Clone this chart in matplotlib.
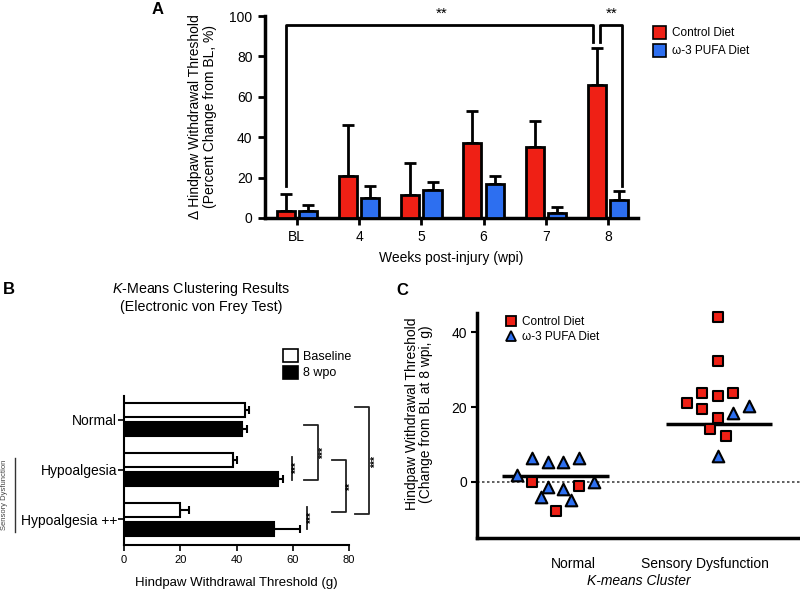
import matplotlib
matplotlib.use("Agg")
import matplotlib.pyplot as plt
from matplotlib.patches import Patch
from matplotlib.lines import Line2D

plt.rcParams['font.family'] = ['Liberation Sans', 'DejaVu Sans']
plt.rcParams['mathtext.fontset'] = 'custom'
plt.rcParams['mathtext.it'] = 'Liberation Sans:italic'
plt.rcParams['mathtext.rm'] = 'Liberation Sans'

# Panel A data: % change in hindpaw withdrawal threshold
weeks = ['BL', '4', '5', '6', '7', '8']
control_mean = [3.7, 20.6, 11.3, 37.0, 35.0, 65.7]
control_sem = [8.2, 25.2, 15.9, 16.2, 13.0, 18.5]
pufa_mean = [3.3, 9.7, 13.9, 17.0, 2.6, 9.1]
pufa_sem = [3.3, 6.3, 4.0, 4.0, 2.9, 4.2]

# Panel B data: k-means clusters
clusters = ['Normal', 'Hypoalgesia', 'Hypoalgesia ++']
baseline = [43.0, 38.9, 19.9]
baseline_err = [1.3, 1.4, 3.3]
wpo8 = [41.9, 54.9, 53.4]
wpo8_err = [1.9, 1.8, 9.2]

# Panel C data: individual animals (x = jittered cluster position)
normal_ctrl_x = [0.69, 1.045, 0.87]
normal_ctrl_y = [-0.2, -1.2, -7.9]
normal_pufa_x = [0.574, 0.69, 0.81, 0.92, 1.045, 0.81, 0.92, 0.755, 0.98, 1.16]
normal_pufa_y = [1.8, 6.25, 5.4, 5.4, 6.25, -1.3, -2.0, -4.2, -4.9, 0.0]
sd_ctrl_x = [2.10, 2.10, 1.975, 2.10, 2.21, 1.86, 1.975, 2.10, 2.04, 2.16]
sd_ctrl_y = [44.0, 32.3, 23.7, 22.9, 23.8, 21.0, 19.6, 17.1, 14.0, 12.2]
sd_pufa_x = [2.21, 2.33, 2.10]
sd_pufa_y = [18.3, 20.3, 7.0]
cluster_names = ['Normal', 'Sensory Dysfunction']
cluster_means = [1.5, 15.4]

RED = '#ef2015'
BLUE = '#2d6ff0'

W, H = 800, 591
fig = plt.figure(figsize=(W / 100, H / 100), dpi=100)


def px_axes(l, t, r, b):
    return fig.add_axes([l / W, 1 - b / H, (r - l) / W, (b - t) / H])


# ---------------- Panel A ----------------
ax = px_axes(265, 16, 638, 218)
x = list(range(len(weeks)))
off, bw = 0.18, 0.29
xc = [i - off for i in x]
xp = [i + off for i in x]
ax.bar(xc, control_mean, bw, color=RED, edgecolor='black', linewidth=2, zorder=3)
ax.bar(xp, pufa_mean, bw, color=BLUE, edgecolor='black', linewidth=2, zorder=3)
ax.errorbar(xc, control_mean, yerr=[[0] * 6, control_sem], fmt='none', ecolor='black',
            elinewidth=2, capsize=4, capthick=2, zorder=2)
ax.errorbar(xp, pufa_mean, yerr=[[0] * 6, pufa_sem], fmt='none', ecolor='black',
            elinewidth=2, capsize=4, capthick=2, zorder=2)
ax.set_xlim(-0.51, 5.48)
ax.set_ylim(0, 100)
ax.set_yticks([0, 20, 40, 60, 80, 100])
ax.set_xticks(x)
ax.set_xticklabels(weeks)
for s in ['top', 'right']:
    ax.spines[s].set_visible(False)
for s in ['left', 'bottom']:
    ax.spines[s].set_linewidth(2.5)
ax.tick_params(direction='out', length=5, width=2, labelsize=10, pad=4)
ax.set_ylabel('\u0394 Hindpaw Withdrawal Threshold\n(Percent Change from BL, %)', fontsize=10,
              labelpad=9, linespacing=1.05)
ax.set_xlabel('Weeks post-injury (wpi)', fontsize=10, labelpad=5)

# significance brackets
top = 95.5
ax.plot([xc[0], xc[0], xc[5] - 0.06, xc[5] - 0.06], [16, top, top, 87], color='black', lw=2,
        clip_on=False, zorder=4)
ax.plot([xc[5] + 0.05, xc[5] + 0.05, xp[5] + 0.04, xp[5] + 0.04], [87, top, top, 16], color='black',
        lw=2, clip_on=False, zorder=4)
ax.text(2.33, 97.5, '**', ha='center', va='bottom', fontsize=11, clip_on=False)
ax.text(5.05, 97.5, '**', ha='center', va='bottom', fontsize=11, clip_on=False)

ax.legend(handles=[Patch(facecolor=RED, edgecolor='black', linewidth=1.2, label='Control Diet'),
                   Patch(facecolor=BLUE, edgecolor='black', linewidth=1.2, label='\u03c9-3 PUFA Diet')],
          loc='upper left', bbox_to_anchor=(648 / W, 1 - 21 / H), bbox_transform=fig.transFigure,
          frameon=False, fontsize=8.5, handlelength=1.1, handleheight=1.3, handletextpad=0.5,
          labelspacing=0.4, borderaxespad=0)

fig.text(158 / W, 1 - 9 / H, 'A', fontsize=12, fontweight='bold', ha='center', va='center')

# ---------------- Panel B ----------------
bx = px_axes(124, 396, 349, 545)
y = list(range(len(clusters)))
boff, bh = 0.19, 0.28
yb = [i - boff for i in y]
yw = [i + boff for i in y]
bx.barh(yb, baseline, bh, color='white', edgecolor='black', linewidth=1.5, zorder=3)
bx.barh(yw, wpo8, bh, color='black', edgecolor='black', linewidth=1.5, zorder=3)
bx.errorbar(baseline, yb, xerr=[[0] * 3, baseline_err], fmt='none', ecolor='black',
            elinewidth=1.5, capsize=3, capthick=1.5, zorder=2)
bx.errorbar(wpo8, yw, xerr=[[0] * 3, wpo8_err], fmt='none', ecolor='black',
            elinewidth=1.5, capsize=3, capthick=1.5, zorder=2)
bx.set_xlim(0, 80)
bx.set_ylim(2.52, -0.48)
bx.set_xticks([0, 20, 40, 60, 80])
bx.set_yticks(y)
bx.set_yticklabels(clusters, fontsize=10)
for s in ['top', 'right']:
    bx.spines[s].set_visible(False)
for s in ['left', 'bottom']:
    bx.spines[s].set_linewidth(1.5)
bx.tick_params(axis='x', direction='out', length=4, width=1.2, labelsize=8, pad=3)
bx.tick_params(axis='y', direction='out', length=4, width=1.2, pad=1)
bx.set_xlabel('Hindpaw Withdrawal Threshold (g)', fontsize=9.5, labelpad=9)

bk = dict(color='#222222', lw=1.3, clip_on=False)
bx.plot([59.8, 59.8], [0.745, 1.207], **bk)
bx.plot([65.0, 65.0], [1.75, 2.19], **bk)
bx.plot([64.1, 69.1, 69.1, 64.1], [0.10, 0.10, 1.21, 1.21], **bk)
bx.plot([73.9, 79.0, 79.0, 73.9], [0.80, 0.80, 1.865, 1.865], **bk)
bx.plot([82.2, 87.2, 87.2, 82.2], [-0.26, -0.26, 1.89, 1.89], **bk)
st = dict(rotation=90, ha='center', va='center', fontsize=7.5, fontweight='bold', clip_on=False)
bx.text(61.5, 0.97, '***', **st)
bx.text(66.7, 1.97, '***', **st)
bx.text(70.9, 0.66, '***', **st)
bx.text(80.6, 1.35, '**', **st)
bx.text(89.5, 0.85, '***', **st)

bx.legend(handles=[Patch(facecolor='white', edgecolor='black', linewidth=1.2, label='Baseline'),
                   Patch(facecolor='black', edgecolor='black', linewidth=1.2, label='8 wpo')],
          loc='upper left', bbox_to_anchor=(278 / W, 1 - 344 / H), bbox_transform=fig.transFigure,
          frameon=False, fontsize=9, handlelength=1.2, handleheight=1.2, handletextpad=0.4,
          labelspacing=0.25, borderaxespad=0)

fig.text(201 / W, 1 - 297 / H, '$\\mathit{K}$-Means Clustering Results\n(Electronic von Frey Test)',
         fontsize=10.3, ha='center', va='center', linespacing=1.15)
fig.add_artist(Line2D([15 / W, 15 / W], [1 - 458 / H, 1 - 532 / H], color='#333333', lw=1))
fig.text(5 / W, 1 - 495 / H, 'Sensory Dysfunction', rotation=90, fontsize=5.5, color='#444444',
         ha='center', va='center')
fig.text(9 / W, 1 - 289 / H, 'B', fontsize=12, fontweight='bold', ha='center', va='center')

# ---------------- Panel C ----------------
cx = px_axes(477, 313, 800, 538)
cx.axhline(0, color='#444444', lw=1.2, ls=(0, (1.5, 1.5)), zorder=1)
cx.hlines(cluster_means[0], 0.46, 1.27, color='black', lw=2.5, zorder=2)
cx.hlines(cluster_means[1], 1.70, 2.51, color='black', lw=2.5, zorder=2)
mk = dict(edgecolors='black', linewidths=1.5, zorder=3, clip_on=False)
cx.scatter(normal_pufa_x, normal_pufa_y, marker='^', s=70, color=BLUE, **mk)
cx.scatter(sd_pufa_x, sd_pufa_y, marker='^', s=70, color=BLUE, **mk)
cx.scatter(normal_ctrl_x, normal_ctrl_y, marker='s', s=60, color=RED, **mk)
cx.scatter(sd_ctrl_x, sd_ctrl_y, marker='s', s=60, color=RED, **mk)
cx.set_xlim(0.27, 2.72)
cx.set_ylim(-15.1, 45.2)
cx.set_yticks([0, 20, 40])
cx.set_xticks([1, 2])
cx.set_xticklabels(cluster_names)
for s in ['top', 'right']:
    cx.spines[s].set_visible(False)
for s in ['left', 'bottom']:
    cx.spines[s].set_linewidth(2.5)
cx.tick_params(axis='x', length=0, pad=14, labelsize=10)
cx.tick_params(axis='y', direction='out', length=4, width=1.5, labelsize=10, pad=3)
cx.set_ylabel('Hindpaw Withdrawal Threshold\n(Change from BL at 8 wpi, g)', fontsize=10,
              labelpad=5, linespacing=1.05)
cx.yaxis.set_label_coords(-0.135, 0.55)
cx.set_xlabel('K-means Cluster', fontsize=10, style='italic', labelpad=2)

cx.legend(handles=[Line2D([], [], marker='s', ls='none', markerfacecolor=RED, markeredgecolor='black',
                          markersize=7, markeredgewidth=1.3, label='Control Diet'),
                   Line2D([], [], marker='^', ls='none', markerfacecolor=BLUE, markeredgecolor='black',
                          markersize=7.5, markeredgewidth=1.3, label='\u03c9-3 PUFA Diet')],
          loc='upper left', bbox_to_anchor=(500 / W, 1 - 311 / H), bbox_transform=fig.transFigure,
          frameon=False, fontsize=8.5, handlelength=1.0, handletextpad=0.5, labelspacing=0.3,
          borderaxespad=0)

fig.text(402 / W, 1 - 290 / H, 'C', fontsize=12, fontweight='bold', ha='center', va='center')

fig.savefig('out.png', dpi=100)
